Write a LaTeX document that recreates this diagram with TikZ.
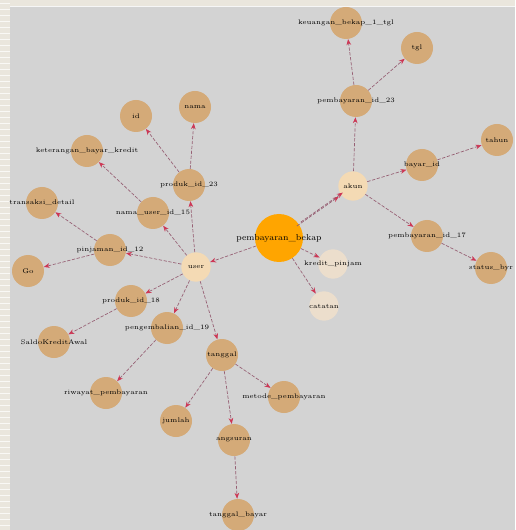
\documentclass[tikz,border=0pt]{standalone}
\usetikzlibrary{arrows.meta}
\definecolor{bgc}{RGB}{211,211,211}
\definecolor{stripc}{RGB}{234,230,221}
\definecolor{tanc}{RGB}{212,170,120}
\definecolor{hubc}{RGB}{244,218,180}
\definecolor{palec}{RGB}{236,222,204}
\definecolor{orangec}{RGB}{255,165,0}
\definecolor{edgec}{RGB}{150,95,115}
\definecolor{tipc}{RGB}{205,55,85}
\tikzset{
  tannode/.style={circle, fill=tanc, minimum size=24pt, inner sep=0pt},
  hubnode/.style={circle, fill=hubc, minimum size=22pt, inner sep=0pt},
  palenode/.style={circle, fill=palec, minimum size=22pt, inner sep=0pt},
  mainnode/.style={circle, fill=orangec, minimum size=36pt, inner sep=0pt},
  lab/.style={font=\fontsize{5}{6}\selectfont, inner sep=0pt},
  link/.style={draw=edgec, line width=0.5pt, dash pattern=on 2.5pt off 1.2pt,
    -{Stealth[length=4.5pt,width=3.5pt,color=tipc,fill=tipc]}},
}
\begin{document}
\begin{tikzpicture}[x=0.75pt,y=-0.75pt]
\useasboundingbox (0,0) rectangle (515,530);
\fill[bgc] (0,0) rectangle (515,530);
\fill[stripc] (0,0) rectangle (515,6);
\fill[stripc] (0,0) rectangle (10,530);
\foreach \k in {0,...,88} {\draw[white!70!stripc, line width=0.3pt] (0,\k*6+3) -- (10,\k*6+3);}
\draw[white!80!bgc, line width=0.4pt] (10,6) -- (515,6);

% nodes
\node[mainnode, label={[lab,font=\fontsize{6.5}{7}\selectfont]center:pembayaran\_bekap}] (c) at (279,238) {};
\node[hubnode, label={[lab]center:akun}] (a) at (353,186) {};
\node[palenode, label={[lab]center:kredit\_pinjam}] (h) at (333,264) {};
\node[palenode, label={[lab]center:catatan}] (ct) at (324,306) {};
\node[hubnode, label={[lab]center:user}] (u) at (196,267) {};

\node[tannode, label={[lab]center:keuangan\_bekap\_1\_tgl}] (keu) at (346,23) {};
\node[tannode, label={[lab]center:tgl}] (tgl) at (417,48) {};
\node[tannode, label={[lab]center:pembayaran\_id\_23}] (p23) at (356,101) {};
\node[tannode, label={[lab]center:bayar\_id}] (bay) at (422,165) {};
\node[tannode, label={[lab]center:tahun}] (thn) at (497,140) {};
\node[tannode, label={[lab]center:pembayaran\_id\_17}] (p17) at (427,236) {};
\node[tannode, label={[lab]center:status\_byr}] (sts) at (491,268) {};

\node[tannode, label={[lab]center:id}] (id) at (136,116) {};
\node[tannode, label={[lab]center:nama}] (nm) at (195,107) {};
\node[tannode, label={[lab]center:keterangan\_bayar\_kredit}] (ket) at (87,151) {};
\node[tannode, label={[lab]center:produk\_id\_23}] (pr23) at (189,185) {};
\node[tannode, label={[lab]center:nama\_user\_id\_15}] (nu) at (153,213) {};
\node[tannode, label={[lab]center:transaksi\_detail}] (tr) at (42,203) {};
\node[tannode, label={[lab]center:pinjaman\_id\_12}] (pj) at (110,250) {};
\node[tannode, label={[lab]center:Go}] (go) at (28,271) {};
\node[tannode, label={[lab]center:produk\_id\_18}] (pr18) at (131,301) {};
\node[tannode, label={[lab]center:SaldoKreditAwal}] (sal) at (54,342) {};
\node[tannode, label={[lab]center:pengembalian\_id\_19}] (pg) at (167,328) {};
\node[tannode, label={[lab]center:riwayat\_pembayaran}] (rw) at (106,393) {};
\node[tannode, label={[lab]center:tanggal}] (tg) at (222,355) {};
\node[tannode, label={[lab]center:jumlah}] (jm) at (176,421) {};
\node[tannode, label={[lab]center:metode\_pembayaran}] (mt) at (284,397) {};
\node[tannode, label={[lab]center:angsuran}] (ang) at (234,440) {};
\node[tannode, label={[lab]center:tanggal\_bayar}] (tb) at (238,515) {};

% connectors
\draw[link, transform canvas={shift={(-1.5pt,-1.5pt)}}] (c) -- (a);
\draw[link, transform canvas={shift={(1.5pt,1.5pt)}}] (c) -- (a);
\draw[link] (c) -- (h);
\draw[link] (c) -- (ct);
\draw[link] (c) -- (u);

\draw[link] (a) -- (p23);
\draw[link] (p23) -- (keu);
\draw[link] (p23) -- (tgl);
\draw[link] (a) -- (bay);
\draw[link] (bay) -- (thn);
\draw[link] (a) -- (p17);
\draw[link] (p17) -- (sts);

\draw[link] (u) -- (pr23);
\draw[link] (pr23) -- (nm);
\draw[link] (pr23) -- (id);
\draw[link] (u) -- (nu);
\draw[link] (nu) -- (ket);
\draw[link] (u) -- (pj);
\draw[link] (pj) -- (tr);
\draw[link] (pj) -- (go);
\draw[link] (u) -- (pr18);
\draw[link] (pr18) -- (sal);
\draw[link] (u) -- (pg);
\draw[link] (pg) -- (rw);
\draw[link] (u) -- (tg);
\draw[link] (tg) -- (jm);
\draw[link] (tg) -- (ang);
\draw[link] (tg) -- (mt);
\draw[link] (ang) -- (tb);
\end{tikzpicture}
\end{document}
